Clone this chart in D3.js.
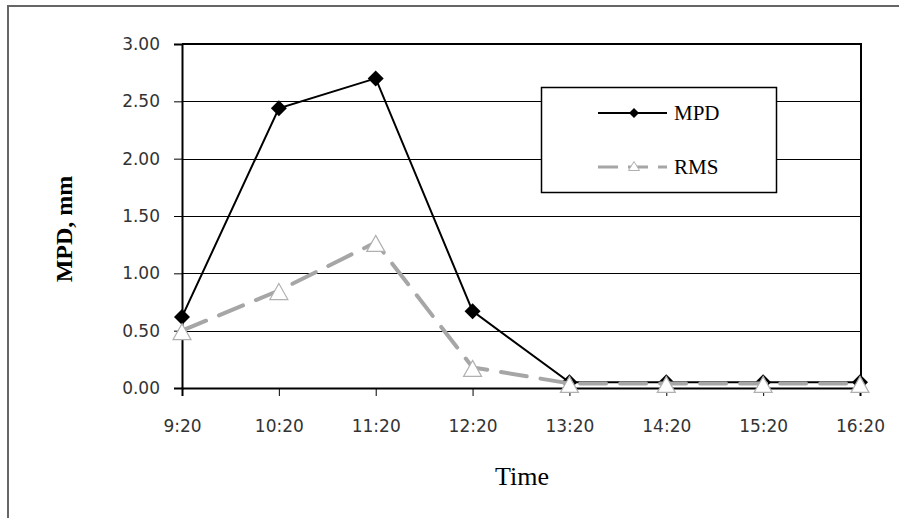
<!DOCTYPE html>
<html>
<head>
<meta charset="utf-8">
<script src="https://cdn.jsdelivr.net/npm/d3@7"></script>
<style>
  html, body { margin: 0; padding: 0; background: #fff; }
  svg { display: block; }
</style>
</head>
<body>
<svg id="chart" width="899" height="518"></svg>
<script>
const categories = ["9:20", "10:20", "11:20", "12:20", "13:20", "14:20", "15:20", "16:20"];
const mpdValues = [0.62, 2.44, 2.70, 0.67, 0.05, 0.05, 0.05, 0.05];
const rmsValues = [0.50, 0.85, 1.27, 0.18, 0.04, 0.04, 0.04, 0.04];
const yTicks = [0, 0.5, 1.0, 1.5, 2.0, 2.5, 3.0];
const seriesNames = ["MPD", "RMS"];

const svg = d3.select("#chart");
const W = 899, H = 518;
const plot = { left: 182, right: 860, top: 44, bottom: 388 };

svg.append("rect").attr("width", W).attr("height", H).attr("fill", "#fff");
// outer chart frame (cropped at right and bottom)
svg.append("path")
  .attr("d", `M8,${H + 5} L8,6 L${W + 5},6`)
  .attr("fill", "none").attr("stroke", "#666").attr("stroke-width", 2);

const x = d3.scalePoint().domain(categories).range([plot.left, plot.right]).padding(0);
const y = d3.scaleLinear().domain([0, 3]).range([plot.bottom, plot.top]);

// gridlines
svg.append("g").selectAll("line").data(yTicks.filter(t => t > 0 && t < 3)).join("line")
  .attr("x1", plot.left).attr("x2", plot.right)
  .attr("y1", d => Math.round(y(d)) + 0.5).attr("y2", d => Math.round(y(d)) + 0.5)
  .attr("stroke", "#000").attr("stroke-width", 1);

// plot border top & right
svg.append("path")
  .attr("d", `M${plot.left},${y(3)} L${plot.right + 1},${y(3)} L${plot.right + 1},${plot.bottom}`)
  .attr("fill", "none").attr("stroke", "#000").attr("stroke-width", 2);

// y axis
const yAxis = d3.axisLeft(y).tickValues(yTicks).tickFormat(d3.format(".2f")).tickSize(8).tickPadding(14);
const gy = svg.append("g").attr("transform", `translate(${plot.left},0)`).call(yAxis);
gy.select(".domain").attr("stroke", "#000").attr("stroke-width", 2);
gy.selectAll(".tick line").attr("stroke", "#000").attr("stroke-width", 1);
gy.selectAll(".tick text").attr("font-family", "DejaVu Sans").attr("font-size", 17).attr("fill", "#333");

// x axis
const xAxis = d3.axisBottom(x).tickSize(8).tickPadding(24);
const gx = svg.append("g").attr("transform", `translate(0,${plot.bottom})`).call(xAxis);
gx.select(".domain").attr("stroke", "#000").attr("stroke-width", 2);
gx.selectAll(".tick line").attr("stroke", "#000").attr("stroke-width", 1);
gx.selectAll(".tick text").attr("font-family", "DejaVu Sans").attr("font-size", 17).attr("fill", "#333");

// axis titles
svg.append("text").text("Time")
  .attr("x", 522).attr("y", 485).attr("text-anchor", "middle")
  .attr("font-family", "Liberation Serif").attr("font-size", 26).attr("fill", "#000");
svg.append("text").text("MPD, mm")
  .attr("transform", "translate(72,229) rotate(-90)").attr("text-anchor", "middle")
  .attr("font-family", "Liberation Serif").attr("font-weight", "bold").attr("font-size", 24).attr("fill", "#000");

const line = d3.line().x((d, i) => x(categories[i])).y(d => y(d));
const diamond = s => `M0,${-s} L${s},0 L0,${s} L${-s},0Z`;
const triangle = (w, h) => `M0,${-h / 2} L${w / 2},${h / 2} L${-w / 2},${h / 2}Z`;

// MPD series
svg.append("path").datum(mpdValues).attr("d", line)
  .attr("fill", "none").attr("stroke", "#000").attr("stroke-width", 2);
svg.append("g").selectAll("path").data(mpdValues).join("path")
  .attr("transform", (d, i) => `translate(${x(categories[i])},${y(d)})`)
  .attr("d", diamond(8)).attr("fill", "#000");

// RMS series
svg.append("path").datum(rmsValues).attr("d", line)
  .attr("fill", "none").attr("stroke", "#a6a6a6").attr("stroke-width", 4)
  .attr("stroke-linecap", "round").attr("stroke-dasharray", "26,14");
svg.append("g").selectAll("path").data(rmsValues).join("path")
  .attr("transform", (d, i) => `translate(${x(categories[i])},${y(d) + 1})`)
  .attr("d", triangle(18, 16)).attr("fill", "#fff").attr("stroke", "#b0b0b0").attr("stroke-width", 1.2);

// legend
const lg = svg.append("g");
lg.append("rect").attr("x", 541.5).attr("y", 87.5).attr("width", 235).attr("height", 105)
  .attr("fill", "#fff").attr("stroke", "#000").attr("stroke-width", 1.5);
const legY = [113, 167];
seriesNames.forEach((name, k) => {
  const g = lg.append("g");
  if (k === 0) {
    g.append("line").attr("x1", 598).attr("x2", 667).attr("y1", legY[k]).attr("y2", legY[k])
      .attr("stroke", "#000").attr("stroke-width", 2);
    g.append("path").attr("transform", `translate(634,${legY[k]})`).attr("d", diamond(5)).attr("fill", "#000");
  } else {
    g.append("line").attr("x1", 598).attr("x2", 667).attr("y1", legY[k]).attr("y2", legY[k])
      .attr("stroke", "#a6a6a6").attr("stroke-width", 3).attr("stroke-dasharray", "20,10");
    g.append("path").attr("transform", `translate(634,${legY[k] - 1})`).attr("d", triangle(11, 9))
      .attr("fill", "#fff").attr("stroke", "#b0b0b0").attr("stroke-width", 1);
  }
  g.append("text").text(name).attr("x", 674).attr("y", legY[k] + 7)
    .attr("font-family", "Liberation Serif").attr("font-size", 21).attr("fill", "#000");
});
</script>
</body>
</html>
